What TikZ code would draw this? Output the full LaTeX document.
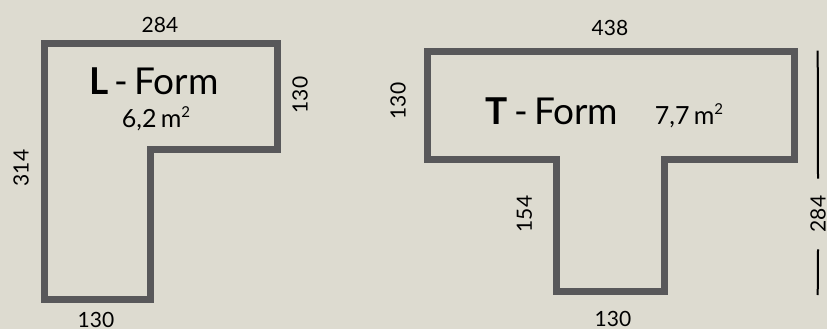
\documentclass[tikz,border=0pt]{standalone}
\usepackage{fontspec}
\setmainfont{Lato}
\definecolor{wallgray}{RGB}{88,88,90}
\definecolor{paper}{RGB}{221,219,208}
\newcommand{\sqm}{\,m\raisebox{0.75ex}{\fontsize{15}{15}\selectfont 2}}

\begin{document}
\begin{tikzpicture}[x=1pt,y=-1pt,
    wallline/.style={draw=wallgray,line width=7pt,line join=miter},
    dim/.style={inner sep=0pt,font=\fontsize{21}{21}\selectfont},
    formname/.style={inner sep=0pt,anchor=base,font=\fontsize{37}{37}\selectfont},
    area/.style={inner sep=0pt,anchor=base,font=\fontsize{25}{25}\selectfont}]
      \fill[paper] (0,0) rectangle (827,329);
      \useasboundingbox (0,0) rectangle (827,329);
      % L-Form
      \draw[wallline] (44.5,44) -- (277.5,44) -- (277.5,149.7) -- (150,149.7)
            -- (150,299) -- (44.5,299) -- cycle;
      \node[formname] (lname) at (154,94) {\textbf{L}\,-\,Form};
      \node[area] (larea) at (156,127) {6,2\sqm};
      \node[dim,anchor=base] (ltop) at (160,33) {284};
      \node[dim,rotate=90] (lright) at (300,95) {130};
      \node[dim,rotate=90] (lleft) at (21,168) {314};
      \node[dim,anchor=base] (lbottom) at (96,327) {130};
      % T-Form
      \draw[wallline] (427,52) -- (794,52) -- (794,159.5) -- (664.7,159.5)
            -- (664.7,291.7) -- (556,291.7) -- (556,159.5) -- (427,159.5) -- cycle;
      \node[formname] (tname) at (552,124) {\textbf{T}\,-\,Form};
      \node[area] (tarea) at (689,124) {7,7\sqm};
      \node[dim,anchor=base] (ttop) at (610,36) {438};
      \node[dim,rotate=90] (tleft) at (398,101) {130};
      \node[dim,rotate=90] (tstem) at (524.5,214) {154};
      \node[dim,anchor=base] (tbottom) at (613,326) {130};
      \node[dim,rotate=90,inner xsep=17pt] (theight) at (818,214) {284};
      \coordinate (hup) at (817.7,50.7);
      \coordinate (hdown) at (817.7,295);
      \draw[line width=2pt] (hup) -- (theight.east);
      \draw[line width=2pt] (theight.west) -- (hdown);
\end{tikzpicture}
\end{document}
